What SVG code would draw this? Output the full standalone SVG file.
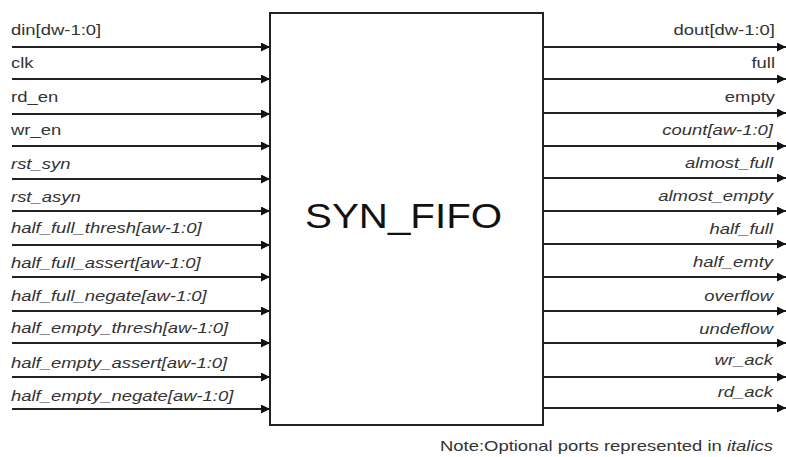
<svg xmlns="http://www.w3.org/2000/svg" width="786" height="457" viewBox="0 0 786 457">
<defs>
<style>
.lbl{font-family:"Liberation Sans",Arial,sans-serif;font-size:15px;fill:#333}
.it{font-style:italic}
.end{text-anchor:end}
.wire{stroke:#222;stroke-width:2;fill:none;marker-end:url(#arr)}
.box{fill:#fff;stroke:#222;stroke-width:2}
.title{font-family:"Liberation Sans",Arial,sans-serif;font-size:36px;fill:#111}
</style>
<marker id="arr" markerUnits="userSpaceOnUse" markerWidth="10" markerHeight="10" refX="9" refY="4.5" orient="auto">
<path d="M0,0 L9,4.5 L0,9 z" fill="#111"/>
</marker>
</defs>
<rect width="786" height="457" fill="#fff"/>
<g id="syn_fifo">
<rect class="box" x="270" y="13" width="273" height="412"/>
<text class="title" transform="translate(305,228) scale(1.12,1)">SYN_FIFO</text>
</g>
<g id="connectors">
<line class="wire" x1="12" y1="47" x2="270" y2="47"/>
<line class="wire" x1="12" y1="79" x2="270" y2="79"/>
<line class="wire" x1="12" y1="114" x2="270" y2="114"/>
<line class="wire" x1="12" y1="146" x2="270" y2="146"/>
<line class="wire" x1="12" y1="179" x2="270" y2="179"/>
<line class="wire" x1="12" y1="211" x2="270" y2="211"/>
<line class="wire" x1="12" y1="245" x2="270" y2="245"/>
<line class="wire" x1="12" y1="277" x2="270" y2="277"/>
<line class="wire" x1="12" y1="311" x2="270" y2="311"/>
<line class="wire" x1="12" y1="343" x2="270" y2="343"/>
<line class="wire" x1="12" y1="377" x2="270" y2="377"/>
<line class="wire" x1="12" y1="409" x2="270" y2="409"/>
<line class="wire" x1="543" y1="47" x2="786" y2="47"/>
<line class="wire" x1="543" y1="79" x2="786" y2="79"/>
<line class="wire" x1="543" y1="113" x2="786" y2="113"/>
<line class="wire" x1="543" y1="146" x2="786" y2="146"/>
<line class="wire" x1="543" y1="178" x2="786" y2="178"/>
<line class="wire" x1="543" y1="211" x2="786" y2="211"/>
<line class="wire" x1="543" y1="244" x2="786" y2="244"/>
<line class="wire" x1="543" y1="277" x2="786" y2="277"/>
<line class="wire" x1="543" y1="311" x2="786" y2="311"/>
<line class="wire" x1="543" y1="343" x2="786" y2="343"/>
<line class="wire" x1="543" y1="377" x2="786" y2="377"/>
<line class="wire" x1="543" y1="408" x2="786" y2="408"/>
</g>
<g id="inputs">
<text class="lbl" transform="translate(11,35) scale(1.23,1)">din[dw-1:0]</text>
<text class="lbl" transform="translate(11,68) scale(1.23,1)">clk</text>
<text class="lbl" transform="translate(11,102) scale(1.23,1)">rd_en</text>
<text class="lbl" transform="translate(11,135) scale(1.23,1)">wr_en</text>
<text class="lbl it" transform="translate(11,169) scale(1.23,1)">rst_syn</text>
<text class="lbl it" transform="translate(11,202) scale(1.23,1)">rst_asyn</text>
<text class="lbl it" transform="translate(11,233) scale(1.23,1)">half_full_thresh[aw-1:0]</text>
<text class="lbl it" transform="translate(11,268) scale(1.23,1)">half_full_assert[aw-1:0]</text>
<text class="lbl it" transform="translate(11,301) scale(1.23,1)">half_full_negate[aw-1:0]</text>
<text class="lbl it" transform="translate(11,333) scale(1.23,1)">half_empty_thresh[aw-1:0]</text>
<text class="lbl it" transform="translate(11,368) scale(1.23,1)">half_empty_assert[aw-1:0]</text>
<text class="lbl it" transform="translate(11,401) scale(1.23,1)">half_empty_negate[aw-1:0]</text>
</g>
<g id="outputs">
<text class="lbl end" transform="translate(775,35) scale(1.23,1)">dout[dw-1:0]</text>
<text class="lbl end" transform="translate(775,68) scale(1.23,1)">full</text>
<text class="lbl end" transform="translate(775,102) scale(1.23,1)">empty</text>
<text class="lbl end it" transform="translate(773,135) scale(1.23,1)">count[aw-1:0]</text>
<text class="lbl end it" transform="translate(773,168) scale(1.23,1)">almost_full</text>
<text class="lbl end it" transform="translate(773,201) scale(1.23,1)">almost_empty</text>
<text class="lbl end it" transform="translate(773,234) scale(1.23,1)">half_full</text>
<text class="lbl end it" transform="translate(773,267) scale(1.23,1)">half_emty</text>
<text class="lbl end it" transform="translate(773,301) scale(1.23,1)">overflow</text>
<text class="lbl end it" transform="translate(773,334) scale(1.23,1)">undeflow</text>
<text class="lbl end it" transform="translate(773,365) scale(1.23,1)">wr_ack</text>
<text class="lbl end it" transform="translate(773,397) scale(1.23,1)">rd_ack</text>
</g>
<g id="note">
<text class="lbl" transform="translate(440,451) scale(1.23,1)">Note:Optional ports represented in <tspan class="it">italics</tspan></text>
</g>
</svg>
